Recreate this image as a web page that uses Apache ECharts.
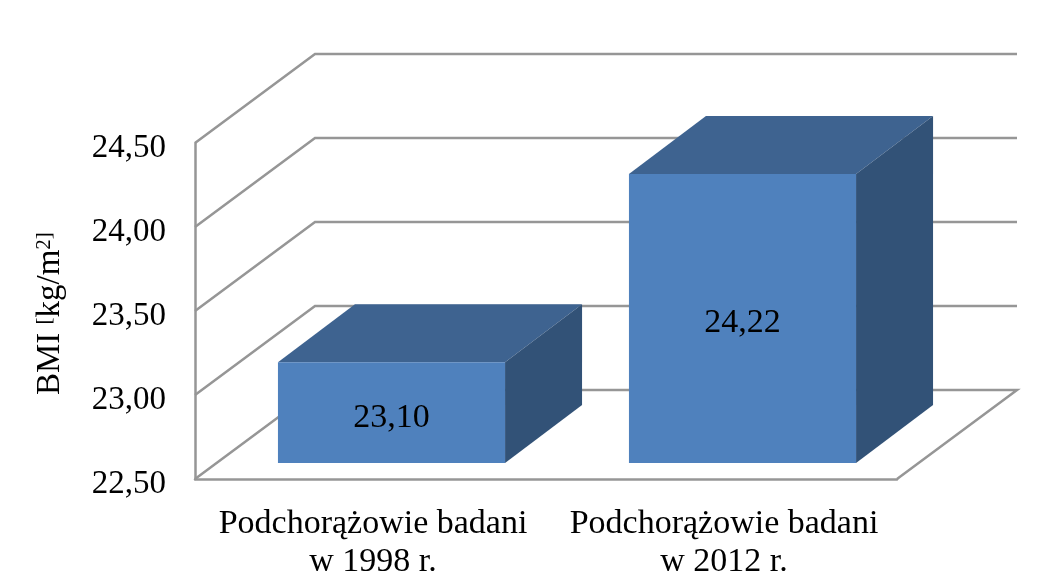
<!DOCTYPE html>
<html><head><meta charset="utf-8">
<style>html,body{margin:0;padding:0;background:#fff}#c{width:1045px;height:587px}</style>
<script src="https://cdn.jsdelivr.net/npm/echarts@6/dist/echarts.min.js"></script>
</head><body><div id="c"></div>
<script>
const categories = ['Podchorążowie badani\nw 1998 r.', 'Podchorążowie badani\nw 2012 r.'];
const bmiValues = [23.10, 24.22];
const tickValues = [22.5, 23, 23.5, 24, 24.5];
const yMin = 22.5, yMax = 24.5;

const FONT = '"Liberation Serif"';
const LINE = '#969696';
const LW = 2.5;
const comma = (v) => v.toFixed(2).replace('.', ',');
const WALL = [120, 89], BAR_OFFSET = [21, 16], BAR_DEPTH = [77, 58], BAR_RATIO = 0.647;

function renderGrid(params, api) {
  const cs = params.coordSys;
  const t = api.value(0);
  const y = api.coord([0, t])[1];
  const l = cs.x, r = cs.x + cs.width;
  const pts = [[l, y], [l + WALL[0], y - WALL[1]], [r + WALL[0], y - WALL[1]]];
  if (t === yMin) pts.push([r, y]);
  return { type: 'polyline', shape: { points: pts }, style: { fill: 'none', stroke: LINE, lineWidth: LW } };
}

function renderBar(params, api) {
  const i = api.value(0), v = api.value(1);
  const c = api.coord([i, v]), b = api.coord([i, yMin]);
  const w = api.size([1, 0])[0] * BAR_RATIO;
  const x0 = c[0] + BAR_OFFSET[0] - w / 2, x1 = x0 + w;
  const yT = c[1] - BAR_OFFSET[1], yB = b[1] - BAR_OFFSET[1];
  const dx = BAR_DEPTH[0], dy = BAR_DEPTH[1];
  return { type: 'group', children: [
    { type: 'polygon', shape: { points: [[x0, yT], [x0 + dx, yT - dy], [x1 + dx, yT - dy], [x1, yT]] }, style: { fill: '#3E6390' } },
    { type: 'polygon', shape: { points: [[x1, yT], [x1 + dx, yT - dy], [x1 + dx, yB - dy], [x1, yB]] }, style: { fill: '#325277' } },
    { type: 'rect', shape: { x: x0, y: yT, width: w, height: yB - yT }, style: { fill: '#4F81BD' } },
    { type: 'text', style: { x: (x0 + x1) / 2, y: (yT + yB) / 2 + 5, text: comma(v), font: '34px ' + FONT, fill: '#000', align: 'center', verticalAlign: 'middle' } }
  ]};
}

const chart = echarts.init(document.getElementById('c'), null, { renderer: 'canvas' });
chart.setOption({
  animation: false,
  backgroundColor: '#fff',
  grid: { left: 195, right: 148, top: 143, bottom: 108 },
  xAxis: {
    type: 'category', data: categories,
    axisLine: { show: true, lineStyle: { color: LINE, width: LW } },
    axisTick: { show: false },
    axisLabel: { fontFamily: FONT, fontSize: 34, color: '#000', lineHeight: 38, margin: 26, interval: 0, padding: [0, 0, 0, 5] }
  },
  yAxis: {
    type: 'value', min: yMin, max: yMax, interval: 0.5,
    splitLine: { show: false },
    axisLine: { show: true, lineStyle: { color: LINE, width: LW } },
    axisTick: { show: false },
    axisLabel: { fontFamily: FONT, fontSize: 33, color: '#000', margin: 29, verticalAlign: 'top', lineHeight: 11, formatter: (v) => comma(v) },
    name: '{a|BMI }{b|[}{a|kg/m}{b|2]\u00a0}',
    nameLocation: 'middle', nameGap: 128, nameRotate: 90,
    nameTextStyle: { rich: {
      a: { fontFamily: FONT, fontSize: 33, color: '#000', verticalAlign: 'bottom' },
      b: { fontFamily: FONT, fontSize: 21, color: '#000', verticalAlign: 'top' }
    } }
  },
  series: [
    { type: 'custom', z: 1, silent: true, coordinateSystem: 'cartesian2d', encode: { x: 1, y: 0 },
      data: tickValues.map((t) => [t, 0]), renderItem: renderGrid },
    { type: 'custom', z: 2, silent: true, coordinateSystem: 'cartesian2d', encode: { x: 0, y: 1 },
      data: bmiValues.map((v, i) => [i, v]), renderItem: renderBar }
  ]
});
</script></body></html>
